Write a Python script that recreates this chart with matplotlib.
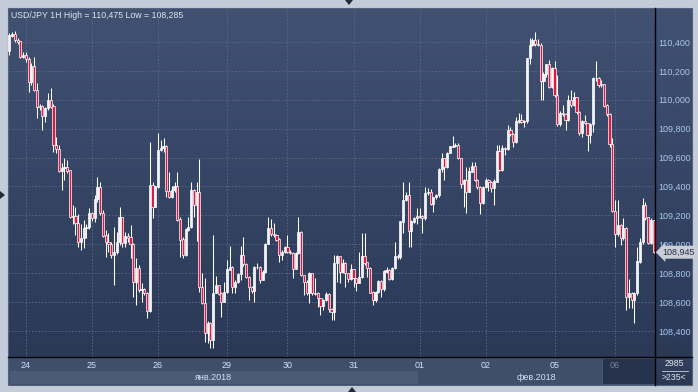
import numpy as np
import matplotlib
matplotlib.use('Agg')
import matplotlib.pyplot as plt
from matplotlib.colors import LinearSegmentedColormap
from matplotlib.patches import Rectangle, Polygon
from matplotlib.transforms import blended_transform_factory

plt.rcParams['font.family'] = ['Liberation Sans', 'DejaVu Sans']

# USD/JPY hourly candles, 24 Jan - 06 Feb 2018
first_open = 110.338
close_prices = [
    110.444, 110.453, 110.414, 110.403, 110.299, 110.306, 110.283, 110.126, 110.230, 110.068,
    109.953, 109.957, 109.890, 109.941, 109.999, 109.953, 109.687, 109.660, 109.508, 109.526,
    109.531, 109.510, 109.191, 109.198, 109.145, 109.018, 109.041, 109.115, 109.122, 109.215,
    109.180, 109.314, 109.392, 109.215, 109.060, 109.018, 109.000, 108.926, 108.949, 109.018,
    109.191, 109.007, 109.053, 109.046, 109.000, 108.742, 108.834, 108.684, 108.691, 108.661,
    108.541, 109.411, 109.261, 109.399, 109.653, 109.664, 109.676, 109.370,
    109.330, 109.376, 109.399, 109.172, 109.034, 108.926, 109.103, 109.120, 109.376, 109.272,
    109.364, 108.706, 108.596, 108.384, 108.457, 108.337, 108.665, 108.718, 108.660, 108.603,
    108.672, 108.826, 108.845, 108.706, 108.741, 108.794, 108.926, 108.863, 108.776, 108.706,
    108.679, 108.845, 108.845, 108.757, 108.810, 109.002, 109.110, 109.069, 109.064, 109.034,
    108.926, 108.949, 108.983, 108.949, 108.942, 108.833, 108.942, 109.087, 108.787, 108.741,
    108.665, 108.799, 108.665, 108.660, 108.626, 108.573, 108.614, 108.656, 108.550,
    108.534, 108.869, 108.915, 108.811, 108.869, 108.799, 108.758, 108.827, 108.765, 108.735,
    108.772, 108.915, 108.873, 108.834, 108.666, 108.615, 108.672, 108.742, 108.689, 108.811,
    108.822, 108.758, 108.834, 108.919, 108.910, 109.157, 109.307, 109.342, 109.095, 109.157,
    109.180, 109.192, 109.192, 109.180, 109.353, 109.358, 109.279, 109.325, 109.342, 109.519,
    109.595, 109.538, 109.634, 109.676, 109.681, 109.688, 109.595, 109.418, 109.445, 109.365,
    109.503, 109.542, 109.445, 109.395, 109.284, 109.395, 109.445, 109.430, 109.388,
    109.434, 109.646, 109.514, 109.664, 109.660, 109.791, 109.761, 109.706, 109.849, 109.861,
    109.849, 109.853, 110.287, 110.380, 110.414, 110.384, 110.380, 110.130, 110.177, 110.246,
    110.091, 110.218, 110.034, 109.830, 109.907, 109.900, 109.861, 109.999, 109.964, 110.015,
    109.914, 109.768, 109.849, 109.838, 109.757, 109.830, 110.153, 110.149, 110.103, 110.107,
    109.960, 109.900, 109.692, 109.231, 109.069, 109.134, 109.042, 109.115, 108.638, 108.661,
    108.615, 108.661, 108.880, 109.014, 109.272, 109.185, 109.007, 109.168, 108.945,
]
high_prices = [
    110.460, 110.467, 110.476, 110.426, 110.398, 110.333, 110.329, 110.299, 110.253, 110.299,
    110.114, 109.969, 109.964, 109.953, 110.045, 110.080, 109.969, 109.745, 109.687, 109.561,
    109.595, 109.584, 109.514, 109.272, 109.261, 109.208, 109.138, 109.168, 109.138, 109.249,
    109.226, 109.341, 109.468, 109.434, 109.238, 109.099, 109.076, 109.019, 109.122, 109.088,
    109.261, 109.191, 109.088, 109.076, 109.134, 109.007, 108.903, 108.857, 108.730, 108.696,
    108.672, 109.711, 109.429, 109.406, 109.768, 109.722, 109.738, 109.687,
    109.500, 109.400, 109.433, 109.500, 109.190, 109.050, 109.110, 109.186, 109.433, 109.380,
    109.433, 109.588, 108.799, 108.764, 108.470, 108.460, 109.064, 108.780, 108.720, 108.670,
    108.741, 108.891, 108.988, 108.850, 108.750, 108.800, 108.988, 109.053, 108.870, 108.780,
    108.710, 108.850, 108.873, 108.850, 108.820, 109.010, 109.186, 109.172, 109.145, 109.070,
    109.040, 108.960, 108.988, 109.064, 108.960, 108.950, 108.950, 109.191, 109.090, 108.790,
    108.750, 108.810, 108.800, 108.764, 108.670, 108.630, 108.620, 108.672, 108.660,
    108.560, 108.926, 108.926, 108.920, 108.896, 108.880, 108.800, 108.864, 108.830, 108.770,
    108.949, 109.081, 109.081, 108.880, 108.840, 108.680, 108.680, 108.750, 108.750, 108.820,
    108.845, 108.830, 108.840, 109.018, 108.930, 109.160, 109.434, 109.365, 109.434, 109.170,
    109.190, 109.249, 109.249, 109.200, 109.399, 109.388, 109.381, 109.330, 109.350, 109.530,
    109.634, 109.600, 109.640, 109.681, 109.750, 109.699, 109.699, 109.600, 109.450, 109.538,
    109.538, 109.572, 109.572, 109.450, 109.400, 109.400, 109.457, 109.450, 109.440,
    109.450, 109.687, 109.687, 109.687, 109.670, 109.826, 109.814, 109.770, 109.884, 109.907,
    109.900, 109.860, 110.290, 110.426, 110.426, 110.472, 110.420, 110.390, 110.190, 110.246,
    110.276, 110.230, 110.269, 110.172, 109.920, 109.964, 109.910, 110.034, 110.068, 110.057,
    110.020, 109.920, 109.860, 109.895, 109.840, 109.840, 110.160, 110.269, 110.160, 110.137,
    110.110, 109.970, 109.910, 109.734, 109.307, 109.307, 109.140, 109.180, 109.120, 108.760,
    108.670, 108.670, 108.984, 109.042, 109.318, 109.290, 109.190, 109.180, 109.170,
]
low_prices = [
    110.310, 110.437, 110.403, 110.384, 110.292, 110.287, 110.264, 110.057, 110.103, 110.061,
    109.872, 109.930, 109.791, 109.849, 109.930, 109.941, 109.641, 109.630, 109.498, 109.376,
    109.445, 109.491, 109.180, 109.138, 109.065, 108.984, 108.961, 108.972, 109.042, 109.106,
    109.161, 109.157, 109.295, 109.203, 109.053, 108.915, 108.949, 108.903, 108.719, 108.931,
    108.995, 108.984, 108.984, 109.019, 108.903, 108.638, 108.580, 108.672, 108.603, 108.649,
    108.492, 108.534, 109.185, 109.261, 109.388, 109.646, 109.641, 109.330,
    109.320, 109.320, 109.364, 109.160, 108.914, 108.903, 108.920, 109.090, 109.110, 109.186,
    109.020, 108.672, 108.590, 108.326, 108.319, 108.280, 108.280, 108.660, 108.650, 108.499,
    108.600, 108.665, 108.820, 108.660, 108.660, 108.730, 108.750, 108.850, 108.764, 108.614,
    108.660, 108.603, 108.830, 108.730, 108.750, 108.800, 109.000, 109.060, 109.050, 109.020,
    108.880, 108.891, 108.940, 108.940, 108.930, 108.764, 108.830, 108.930, 108.780, 108.649,
    108.650, 108.591, 108.650, 108.650, 108.568, 108.510, 108.545, 108.610, 108.530,
    108.476, 108.476, 108.742, 108.735, 108.800, 108.702, 108.742, 108.750, 108.707, 108.680,
    108.730, 108.770, 108.860, 108.776, 108.660, 108.580, 108.600, 108.660, 108.638, 108.680,
    108.800, 108.750, 108.750, 108.830, 108.900, 108.900, 109.081, 109.300, 108.979, 108.984,
    109.150, 109.140, 109.180, 109.081, 109.170, 109.340, 109.272, 109.226, 109.310, 109.330,
    109.500, 109.445, 109.530, 109.630, 109.670, 109.670, 109.590, 109.388, 109.256, 109.215,
    109.360, 109.500, 109.440, 109.380, 109.210, 109.280, 109.390, 109.370, 109.365,
    109.272, 109.430, 109.507, 109.510, 109.618, 109.650, 109.750, 109.676, 109.700, 109.840,
    109.840, 109.814, 109.840, 110.246, 110.370, 110.370, 110.370, 109.999, 109.999, 110.160,
    110.080, 110.080, 110.020, 109.820, 109.820, 109.890, 109.791, 109.850, 109.950, 109.960,
    109.900, 109.757, 109.745, 109.830, 109.646, 109.699, 109.780, 110.130, 110.090, 110.090,
    109.950, 109.890, 109.676, 109.220, 108.984, 109.060, 108.995, 109.030, 108.546, 108.557,
    108.557, 108.453, 108.650, 108.870, 109.000, 109.170, 109.000, 109.000, 108.940,
]

day_labels = ['24', '25', '26', '29', '30', '31', '01', '02', '05', '06']
day_bars = [6, 30, 54, 79, 101, 125, 149, 173, 198, 220]
month_labels = ['янв.2018', 'фев.2018']
month_start_bars = [-0.5, 148.5]
price_ticks = [108.4, 108.6, 108.8, 109.0, 109.2, 109.4, 109.6, 109.8, 110.0, 110.2, 110.4]
title = 'USD/JPY 1H High = 110,475 Low = 108,285'
bars_total = 2985

W, H = 698, 392
fig = plt.figure(figsize=(W / 100, H / 100), dpi=100)
fig.patch.set_facecolor('#c3ccd8')


def box(x0, y0, x1, y1):
    # pixel box measured from the top-left corner -> figure fractions
    return [x0 / W, 1 - y1 / H, (x1 - x0) / W, (y1 - y0) / H]


# background layer in pixel coordinates
bg = fig.add_axes([0, 0, 1, 1], zorder=0)
bg.set_xlim(0, W)
bg.set_ylim(H, 0)
bg.axis('off')

grad = LinearSegmentedColormap.from_list('panel', ['#415172', '#2b3957'])
bg.imshow(np.linspace(0, 1, 256).reshape(-1, 1), cmap=grad, aspect='auto',
          extent=[8, 692, 357, 8], zorder=0)
bg.imshow(np.linspace(0, 1, 64).reshape(-1, 1), cmap=LinearSegmentedColormap.from_list(
    'corner', ['#33415e', '#2a3753']), aspect='auto', extent=[655, 692, 385, 357], zorder=0)
bg.add_patch(Rectangle((8, 357), 647, 28, fc='#3f4e6a', ec='none', zorder=1))
bg.add_patch(Rectangle((10, 371), 408, 13, fc='#4b5a77', ec='none', zorder=1))
bg.add_patch(Rectangle((602, 358), 53, 26, fc='#27324c', ec='#4a5874', lw=0.6, zorder=2))
bg.add_patch(Rectangle((8, 8), 684, 377, fc='none', ec='#56627a', lw=0.8, zorder=3))
bg.plot([8, 692], [357, 357], color='black', lw=1.0, zorder=4)
bg.plot([655, 655], [8, 385], color='black', lw=1.0, zorder=4)

# little scroll arrows on the frame
for pts in ([(345, 0), (353, 0), (349, 5)], [(348, 392), (356, 392), (352, 387)],
            [(0, 191), (0, 199), (5, 195)]):
    bg.add_patch(Polygon(pts, closed=True, fc='#222a38', ec='none', zorder=5))

bg.text(11, 15, title, color='#dfe4ec', fontsize=6.3, va='center', ha='left', zorder=6)
bg.text(674, 364, str(bars_total), color='#e2e7ef', fontsize=6.3, ha='center', va='center', zorder=6)
bg.plot([662, 688], [370.5, 370.5], color='#c9d1dd', lw=0.6, zorder=6)
bg.text(674, 378, f'>{len(close_prices)}<', color='#e2e7ef', fontsize=6.3,
        ha='center', va='center', zorder=6)

# candle chart
ax = fig.add_axes(box(8, 8, 655, 357), zorder=2)
ax.set_facecolor('none')
for s in ax.spines.values():
    s.set_visible(False)

opens = np.array([first_open] + close_prices[:-1])
closes = np.array(close_prices)
xs = np.arange(len(closes))
up = closes >= opens

for p in price_ticks:
    ax.axhline(p, color='#5a6984', lw=0.6, dashes=(2, 2), zorder=1)
for d in day_bars:
    ax.axvline(d, color='#5a6984', lw=0.6, dashes=(2, 2), zorder=1)

ax.vlines(xs, low_prices, high_prices, color='white', lw=0.75, zorder=2)
ax.bar(xs, np.abs(closes - opens) + 0.002, bottom=np.minimum(opens, closes) - 0.001,
       width=0.78, color=np.where(up, '#f2f4f8', '#e3173f'), edgecolor='white',
       linewidth=0.5, zorder=3)

ax.set_xlim(-0.5, len(closes) - 0.5)
ax.set_ylim(108.220, 110.635)

ax.yaxis.tick_right()
ax.set_yticks(price_ticks)
ax.set_yticklabels([f'{p:.3f}'.replace('.', ',') for p in price_ticks])
ax.tick_params(axis='y', length=0, pad=2.2, labelsize=6.5, labelcolor='#a8c6ec')

ax.set_xticks(day_bars)
ax.set_xticklabels(day_labels)
ax.tick_params(axis='x', length=0, pad=3.0, labelsize=6.5, labelcolor='#d3e2f5')
ax.get_xticklabels()[-1].set_color('#78859b')

# month row under the day labels
trans = blended_transform_factory(ax.transData, fig.transFigure)
month_edges = month_start_bars + [len(closes) - 0.5]
for i, lab in enumerate(month_labels):
    mid = (month_edges[i] + month_edges[i + 1]) / 2
    ax.text(mid, 1 - 377.5 / H, lab, transform=trans, ha='center', va='center',
            fontsize=6.5, color='#d3e2f5', clip_on=False)

# last price tag on the price scale
last = close_prices[-1]
tag = blended_transform_factory(ax.transAxes, ax.transData)
ax.text(1.012, last, f'{last:.3f}'.replace('.', ','), transform=tag, ha='left', va='center',
        fontsize=6.5, color='#2b323e', clip_on=False, zorder=10,
        bbox=dict(boxstyle='larrow,pad=0.22', fc='#c9ced7', ec='none'))

fig.savefig('out.png', dpi=100, facecolor=fig.get_facecolor())
